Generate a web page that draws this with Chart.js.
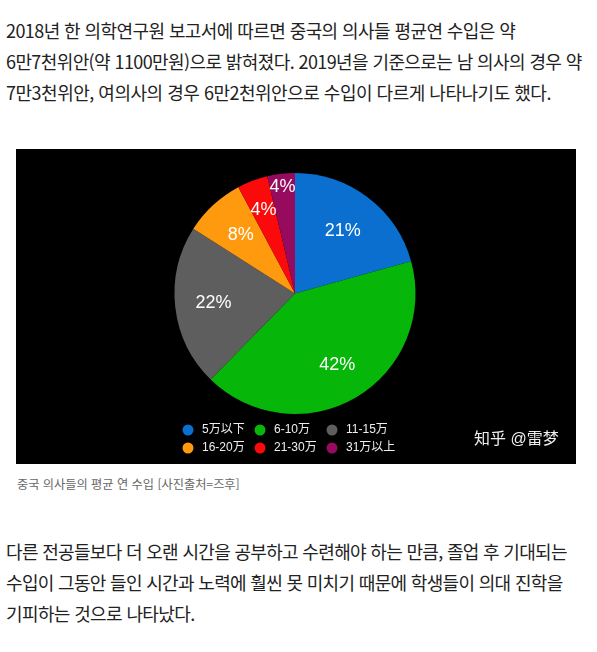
<!DOCTYPE html>
<html lang="ko">
<head>
<meta charset="utf-8">
<script src="https://cdn.jsdelivr.net/npm/chart.js@4/dist/chart.umd.min.js"></script>
<style>
html,body{margin:0;padding:0;background:#fff;}
body{width:597px;height:652px;position:relative;overflow:hidden;font-family:"Noto Sans CJK KR","Noto Sans",sans-serif;color:#222;}
.t{position:absolute;left:6px;white-space:nowrap;font-size:18px;letter-spacing:-0.58px;line-height:31px;font-weight:400;}
#box{position:absolute;left:16px;top:149px;width:560px;height:315px;background:#000;}
#cap{position:absolute;left:17px;top:475px;font-size:12.2px;line-height:18px;color:#666;white-space:nowrap;}
</style>
</head>
<body>
<div class="t" style="top:15px">2018년 한 의학연구원 보고서에 따르면 중국의 의사들 평균연 수입은 약</div>
<div class="t" style="top:46px;letter-spacing:-0.6px">6만7천위안(약 1100만원)으로 밝혀졌다. 2019년을 기준으로는 남 의사의 경우 약</div>
<div class="t" style="top:77px;letter-spacing:-0.49px">7만3천위안, 여의사의 경우 6만2천위안으로 수입이 다르게 나타나기도 했다.</div>
<div id="box"><canvas id="c" width="560" height="315"></canvas></div>
<div id="cap">중국 의사들의 평균 연 수입 [사진출처=즈후]</div>
<div class="t" style="top:536px;letter-spacing:-0.67px">다른 전공들보다 더 오랜 시간을 공부하고 수련해야 하는 만큼, 졸업 후 기대되는</div>
<div class="t" style="top:567px;letter-spacing:-0.67px">수입이 그동안 들인 시간과 노력에 훨씬 못 미치기 때문에 학생들이 의대 진학을</div>
<div class="t" style="top:598px;letter-spacing:-0.62px">기피하는 것으로 나타났다.</div>
<script>
const categories = ["5万以下","6-10万","11-15万","16-20万","21-30万","31万以上"];
const sliceValues = [20.7,41.7,21.7,8.2,4.1,3.7];
const percentLabels = ["21%","42%","22%","8%","4%","4%"];
const sliceColors = ["#0A6FCF","#06B70A","#5E5E5E","#FF9A0E","#FA0A0A","#960B5E"];
const labelRadii = [79,83,82,80,89,107];
const watermark = "知乎 @雷梦";
const latin = '"Liberation Sans","Noto Sans CJK SC",sans-serif';
const legendCols = [172,244,316];
const legendRows = [281,299];
const overlay = {
  id:"overlay",
  afterDatasetsDraw(chart){
    const ctx = chart.ctx, arcs = chart.getDatasetMeta(0).data;
    ctx.save();
    ctx.textBaseline = "middle";
    ctx.textAlign = "center";
    ctx.fillStyle = "#fff";
    ctx.font = "18px "+latin;
    arcs.forEach((a,i)=>{
      const mid = (a.startAngle+a.endAngle)/2, r = labelRadii[i];
      ctx.fillText(percentLabels[i], a.x+Math.cos(mid)*r, a.y+Math.sin(mid)*r);
    });
    ctx.textAlign = "left";
    ctx.font = "12px "+latin;
    categories.forEach((c,i)=>{
      const x = legendCols[i%3], y = legendRows[Math.floor(i/3)];
      ctx.fillStyle = sliceColors[i];
      ctx.beginPath(); ctx.arc(x,y,5.5,0,Math.PI*2); ctx.fill();
      ctx.fillStyle = "#eee";
      ctx.fillText(c,x+14,y);
    });
    ctx.fillStyle = "#eee";
    ctx.font = "16px "+latin;
    ctx.fillText(watermark,458,291);
    ctx.restore();
  }
};
new Chart(document.getElementById("c"),{
  type:"pie",
  data:{labels:categories,datasets:[{data:sliceValues,backgroundColor:sliceColors,borderWidth:0}]},
  options:{
    responsive:false,animation:false,
    layout:{padding:{left:0,right:2,top:24,bottom:50}},
    plugins:{legend:{display:false},tooltip:{enabled:false}}
  },
  plugins:[overlay]
});
</script>
</body>
</html>
